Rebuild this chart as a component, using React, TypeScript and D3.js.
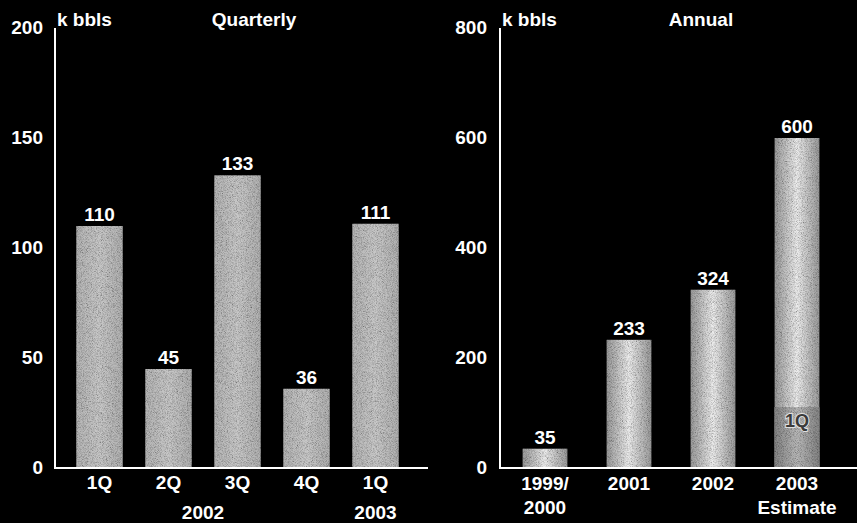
import React from "react";
import * as d3 from "d3";

const W = 857;
const H = 523;

// Quarterly data (k bbls)
const quarterLabels = ["1Q", "2Q", "3Q", "4Q", "1Q"];
const quarterValues = [110, 45, 133, 36, 111];
const quarterYears = [
  { label: "2002", from: 0, to: 3 },
  { label: "2003", from: 4, to: 4 },
];
const quarterTicks = [0, 50, 100, 150, 200];

// Annual data (k bbls)
const annualLabels = [["1999/", "2000"], ["2001"], ["2002"], ["2003", "Estimate"]];
const annualValues = [35, 233, 324, 600];
const annualTicks = [0, 200, 400, 600, 800];
const annual2003FirstQuarter = 111;

const FONT = "'Liberation Sans', Arial, Helvetica, sans-serif";

export default function App() {
  // Left chart scales
  const yL = d3.scaleLinear().domain([0, 200]).range([468, 28]);
  const xL = d3
    .scaleBand<number>()
    .domain(d3.range(quarterValues.length))
    .range([65, 410])
    .paddingInner(0.33)
    .paddingOuter(0.165);

  // Right chart scales
  const yR = d3.scaleLinear().domain([0, 800]).range([468, 28]);
  const xR = d3
    .scaleBand<number>()
    .domain(d3.range(annualValues.length))
    .range([503, 839])
    .paddingInner(0.47)
    .paddingOuter(0.235);

  const textStyle = {
    fontFamily: FONT,
    fontWeight: 700,
    fontSize: 19,
    fill: "#ffffff",
  } as const;

  return (
    <svg
      width={W}
      height={H}
      style={{ position: "absolute", left: 0, top: 0, background: "#000" }}
    >
      <defs>
        <linearGradient id="barL" x1="0" x2="1" y1="0" y2="0">
          <stop offset="0" stopColor="#b4b4b4" />
          <stop offset="0.5" stopColor="#c8c8c8" />
          <stop offset="1" stopColor="#b0b0b0" />
        </linearGradient>
        <linearGradient id="barR" x1="0" x2="1" y1="0" y2="0">
          <stop offset="0" stopColor="#9a9a9a" />
          <stop offset="0.5" stopColor="#ececec" />
          <stop offset="1" stopColor="#9a9a9a" />
        </linearGradient>
        <linearGradient id="barR2" x1="0" x2="1" y1="0" y2="0">
          <stop offset="0" stopColor="#858585" />
          <stop offset="0.5" stopColor="#b8b8b8" />
          <stop offset="1" stopColor="#858585" />
        </linearGradient>
        <filter id="noise" x="0" y="0" width="100%" height="100%">
          <feTurbulence type="fractalNoise" baseFrequency="1.2" numOctaves="2" seed="7" result="n" />
          <feColorMatrix
            in="n"
            type="matrix"
            values="0.9 0.9 0 0 -0.05  0.9 0.9 0 0 -0.05  0.9 0.9 0 0 -0.05  0 0 0 0 1"
            result="g"
          />
          <feBlend in="SourceGraphic" in2="g" mode="multiply" result="b" />
          <feComposite in="b" in2="SourceGraphic" operator="in" />
        </filter>
      </defs>

      {/* ---------- Left chart: Quarterly ---------- */}
      <g>
        {quarterValues.map((v, i) => (
          <rect
            key={"qb" + i}
            x={xL(i)}
            y={yL(v)}
            width={xL.bandwidth()}
            height={yL(0) - yL(v)}
            fill="url(#barL)"
            filter="url(#noise)"
          />
        ))}
        {quarterValues.map((v, i) => (
          <text
            key={"qv" + i}
            x={(xL(i) as number) + xL.bandwidth() / 2}
            y={yL(v) - 5}
            textAnchor="middle"
            style={textStyle}
          >
            {v}
          </text>
        ))}
        {quarterLabels.map((l, i) => (
          <text
            key={"ql" + i}
            x={(xL(i) as number) + xL.bandwidth() / 2}
            y={489}
            textAnchor="middle"
            style={textStyle}
          >
            {l}
          </text>
        ))}
        {quarterYears.map((yr) => (
          <text
            key={"qy" + yr.label}
            x={
              ((xL(yr.from) as number) + (xL(yr.to) as number) + xL.bandwidth()) / 2
            }
            y={519}
            textAnchor="middle"
            style={textStyle}
          >
            {yr.label}
          </text>
        ))}
        {quarterTicks.map((t) => (
          <text
            key={"qt" + t}
            x={43}
            y={yL(t) + 6}
            textAnchor="end"
            style={textStyle}
          >
            {t}
          </text>
        ))}
        <line x1={55} x2={55} y1={yL(200)} y2={yL(0) + 1} stroke="#fff" strokeWidth={2} />
        <line x1={54} x2={428} y1={yL(0)} y2={yL(0)} stroke="#fff" strokeWidth={2} />
        <text x={57} y={26} style={textStyle}>
          k bbls
        </text>
        <text x={254} y={26} textAnchor="middle" style={textStyle}>
          Quarterly
        </text>
      </g>

      {/* ---------- Right chart: Annual ---------- */}
      <g>
        {annualValues.map((v, i) => (
          <rect
            key={"ab" + i}
            x={xR(i)}
            y={yR(v)}
            width={xR.bandwidth()}
            height={yR(0) - yR(v)}
            fill="url(#barR)"
            filter="url(#noise)"
          />
        ))}
        {/* 1Q portion of the 2003 estimate */}
        <rect
          x={xR(3)}
          y={yR(annual2003FirstQuarter)}
          width={xR.bandwidth()}
          height={yR(0) - yR(annual2003FirstQuarter)}
          fill="url(#barR2)"
          filter="url(#noise)"
        />
        <text
          x={(xR(3) as number) + xR.bandwidth() / 2}
          y={yR(annual2003FirstQuarter) + 20}
          textAnchor="middle"
          style={{
            fontFamily: FONT,
            fontWeight: 700,
            fontSize: 18,
            fill: "#3a3a3a",
            stroke: "#e0e0e0",
            strokeWidth: 2,
            paintOrder: "stroke",
          }}
        >
          1Q
        </text>
        {annualValues.map((v, i) => (
          <text
            key={"av" + i}
            x={(xR(i) as number) + xR.bandwidth() / 2}
            y={yR(v) - 5}
            textAnchor="middle"
            style={textStyle}
          >
            {v}
          </text>
        ))}
        {annualLabels.map((lines, i) =>
          lines.map((l, j) => (
            <text
              key={"al" + i + "-" + j}
              x={(xR(i) as number) + xR.bandwidth() / 2}
              y={490 + j * 24}
              textAnchor="middle"
              style={textStyle}
            >
              {l}
            </text>
          ))
        )}
        {annualTicks.map((t) => (
          <text
            key={"at" + t}
            x={487}
            y={yR(t) + 6}
            textAnchor="end"
            style={textStyle}
          >
            {t}
          </text>
        ))}
        <line x1={500} x2={500} y1={yR(800)} y2={yR(0) + 1} stroke="#fff" strokeWidth={2} />
        <line x1={499} x2={857} y1={yR(0)} y2={yR(0)} stroke="#fff" strokeWidth={2} />
        <text x={502} y={26} style={textStyle}>
          k bbls
        </text>
        <text x={701} y={26} textAnchor="middle" style={textStyle}>
          Annual
        </text>
      </g>
    </svg>
  );
}
